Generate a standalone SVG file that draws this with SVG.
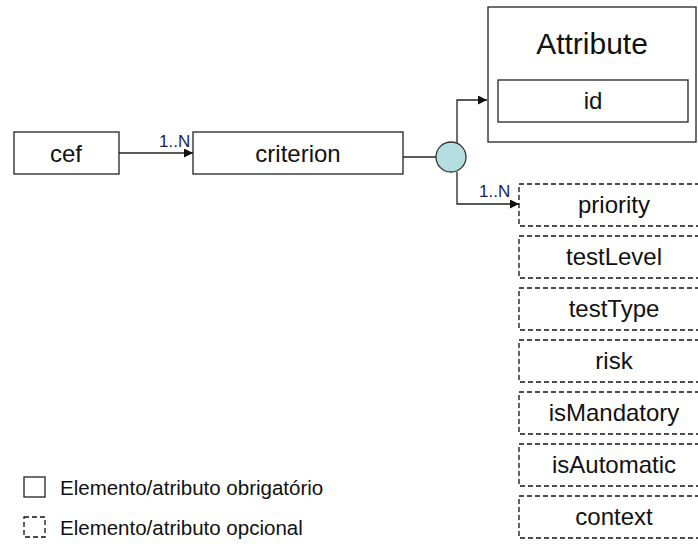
<svg xmlns="http://www.w3.org/2000/svg" width="698" height="544" viewBox="0 0 698 544">
  <defs>
    <marker id="arrow" viewBox="0 0 10 10" refX="10" refY="5" markerWidth="9" markerHeight="9" markerUnits="userSpaceOnUse" orient="auto">
      <path d="M0,0 L10,5 L0,10 Z" fill="#111"/>
    </marker>
  </defs>
  <style>
    .box { fill: #fff; stroke: #222; stroke-width: 1.3; }
    .opt { fill: #fff; stroke: #111; stroke-width: 1.3; stroke-dasharray: 5 3; }
    .lbl { font-family: "Liberation Sans", Arial, sans-serif; font-size: 24px; fill: #111; text-anchor: middle; }
    .title { font-size: 30px; }
    .card { font-family: "Liberation Sans", Arial, sans-serif; font-size: 17px; fill: #1c1c5c; }
    .legend { font-family: "Liberation Sans", Arial, sans-serif; font-size: 20.5px; fill: #111; }
    .conn { fill: none; stroke: #222; stroke-width: 1.3; }
  </style>
  <rect width="698" height="544" fill="#fff"/>

  <!-- connectors -->
  <g id="connectors">
    <line class="conn" x1="119" y1="153" x2="193" y2="153" marker-end="url(#arrow)"/>
    <text class="card" x="159" y="147">1..N</text>
    <line class="conn" x1="403" y1="157" x2="436" y2="157"/>
    <polyline class="conn" points="457,143 457,100 487,100" marker-end="url(#arrow)"/>
    <polyline class="conn" points="457,172 457,204 519,204" marker-end="url(#arrow)"/>
    <text class="card" x="479" y="197">1..N</text>
  </g>

  <g id="cef">
    <rect class="box" x="14" y="132" width="105" height="42"/>
    <text class="lbl" x="66" y="162">cef</text>
  </g>

  <g id="criterion">
    <rect class="box" x="193" y="132" width="210" height="42"/>
    <text class="lbl" x="298" y="162">criterion</text>
  </g>

  <g id="sequence">
    <circle cx="451" cy="157" r="15" fill="#b4dee0" stroke="#333" stroke-width="1.3"/>
  </g>

  <g id="Attribute">
    <rect class="box" x="488" y="7" width="208" height="135" stroke-width="1.6"/>
    <text class="lbl title" x="592" y="54">Attribute</text>
    <rect class="box" x="498" y="80" width="190" height="42"/>
    <text class="lbl" x="593" y="109">id</text>
  </g>

  <g id="priority">
    <rect class="opt" x="519" y="184" width="190" height="42"/>
    <text class="lbl" x="614" y="213">priority</text>
  </g>
  <g id="testLevel">
    <rect class="opt" x="519" y="236" width="190" height="42"/>
    <text class="lbl" x="614" y="265">testLevel</text>
  </g>
  <g id="testType">
    <rect class="opt" x="519" y="288" width="190" height="42"/>
    <text class="lbl" x="614" y="317">testType</text>
  </g>
  <g id="risk">
    <rect class="opt" x="519" y="340" width="190" height="42"/>
    <text class="lbl" x="614" y="369">risk</text>
  </g>
  <g id="isMandatory">
    <rect class="opt" x="519" y="392" width="190" height="42"/>
    <text class="lbl" x="614" y="421">isMandatory</text>
  </g>
  <g id="isAutomatic">
    <rect class="opt" x="519" y="444" width="190" height="42"/>
    <text class="lbl" x="614" y="473">isAutomatic</text>
  </g>
  <g id="context">
    <rect class="opt" x="519" y="496" width="190" height="42"/>
    <text class="lbl" x="614" y="525">context</text>
  </g>

  <!-- legend -->
  <g id="legend">
    <rect class="box" x="24" y="477" width="21" height="20"/>
    <text class="legend" x="60" y="495">Elemento/atributo obrigatório</text>
    <rect class="opt" x="24" y="517" width="21" height="20" stroke-dasharray="4 3"/>
    <text class="legend" x="60" y="535">Elemento/atributo opcional</text>
  </g>
</svg>
